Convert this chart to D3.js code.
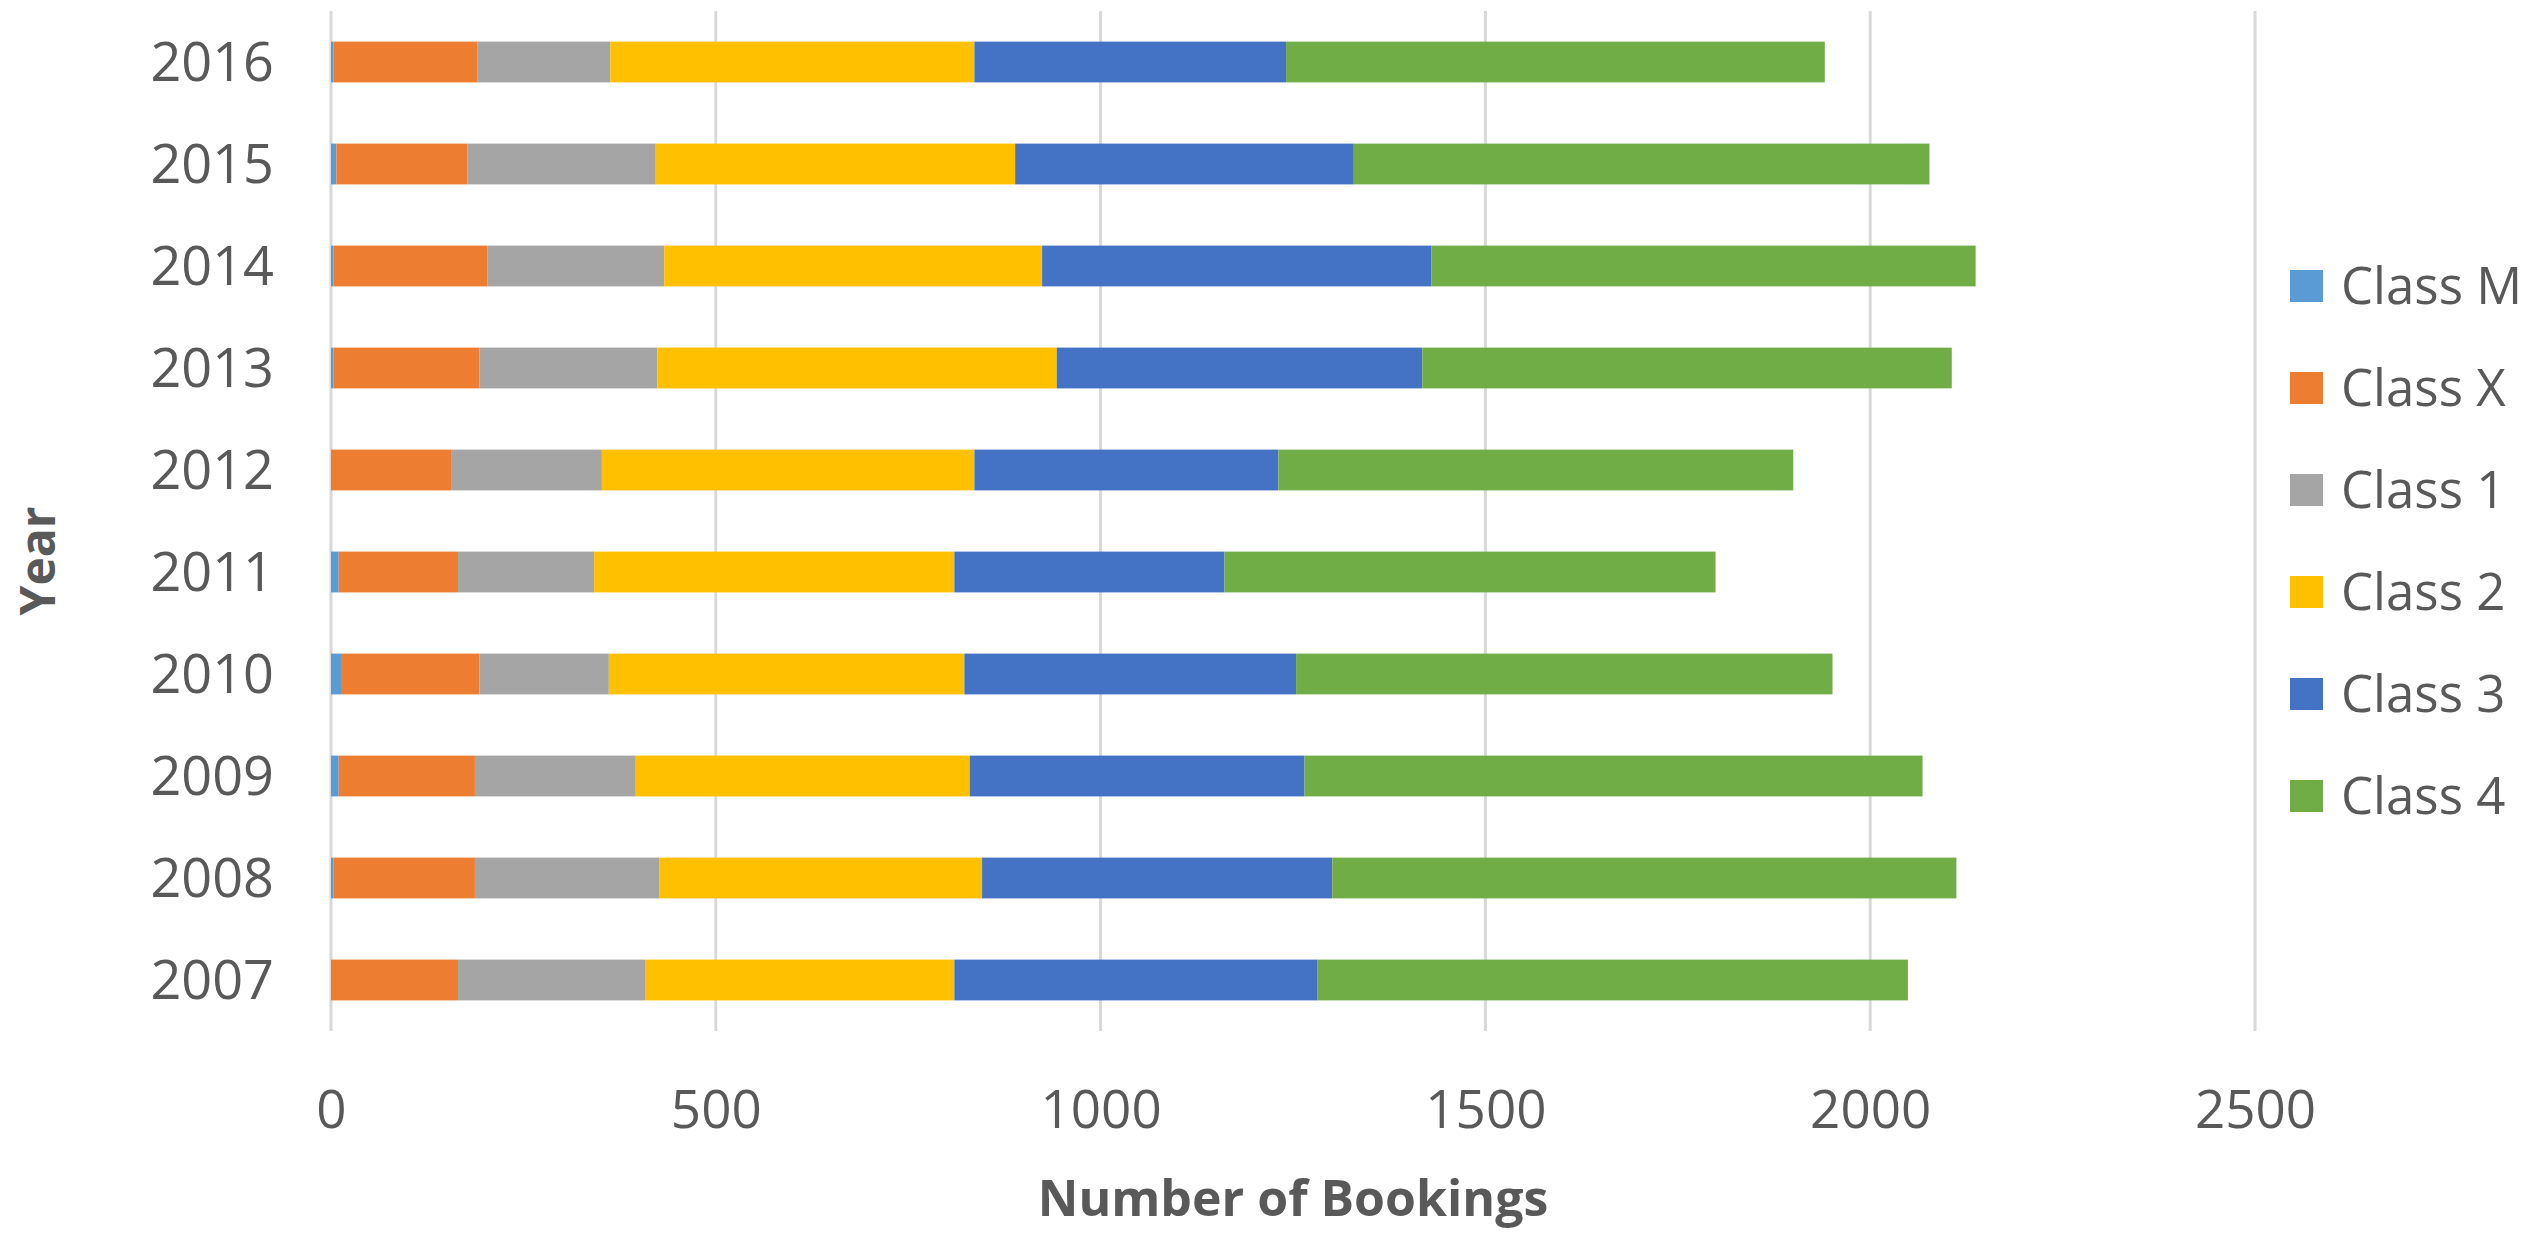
<!DOCTYPE html>
<html>
<head>
<meta charset="utf-8">
<script src="https://cdn.jsdelivr.net/npm/d3@7"></script>
<style>
  html, body { margin: 0; padding: 0; background: #ffffff; }
  svg { display: block; }
  text { font-family: "Open Sans", "Noto Sans", sans-serif; fill: #595959; }
</style>
</head>
<body>
<svg id="chart" width="2535" height="1239"></svg>
<script>
// ---- data (years 2007..2016) ----
const years = ["2007", "2008", "2009", "2010", "2011", "2012", "2013", "2014", "2015", "2016"];
const seriesNames = ["Class M", "Class X", "Class 1", "Class 2", "Class 3", "Class 4"];
const classM = [0, 3, 10, 13, 10, 0, 3, 3, 7, 3];
const classX = [165, 184, 177, 180, 155, 156, 190, 200, 170, 187];
const class1 = [243, 240, 209, 168, 177, 196, 231, 230, 244, 173];
const class2 = [402, 419, 434, 462, 468, 484, 519, 491, 468, 473];
const class3 = [472, 455, 435, 431, 351, 395, 475, 506, 440, 405];
const class4 = [767, 811, 803, 697, 638, 669, 688, 707, 748, 700];
const xTicks = [0, 500, 1000, 1500, 2000, 2500];
const colors = ["#5B9BD5", "#ED7D31", "#A5A5A5", "#FFC000", "#4472C4", "#70AD47"];

const seriesValues = [classM, classX, class1, class2, class3, class4];
const rows = years.map((y, i) => {
  const r = { year: y };
  seriesNames.forEach((s, k) => { r[s] = seriesValues[k][i]; });
  return r;
});

const svg = d3.select("#chart");

const plot = { left: 331, right: 2255, top: 11, bottom: 1031 };

const x = d3.scaleLinear().domain([0, 2500]).range([plot.left, plot.right]);
const y = d3.scaleBand()
  .domain(years.slice().reverse())
  .range([plot.top, plot.bottom])
  .paddingInner(0.6)
  .paddingOuter(0.3);

// gridlines
svg.append("g")
  .selectAll("line")
  .data(xTicks)
  .join("line")
  .attr("x1", d => x(d)).attr("x2", d => x(d))
  .attr("y1", plot.top).attr("y2", plot.bottom)
  .attr("stroke", "#d9d9d9")
  .attr("stroke-width", 3);

// stacked bars
const stack = d3.stack().keys(seriesNames);
const stacked = stack(rows);

svg.append("g")
  .selectAll("g")
  .data(stacked)
  .join("g")
  .attr("fill", (d, i) => colors[i])
  .selectAll("rect")
  .data(d => d)
  .join("rect")
  .attr("x", d => x(d[0]))
  .attr("width", d => Math.max(0, x(d[1]) - x(d[0])))
  .attr("y", d => y(d.data.year))
  .attr("height", y.bandwidth());

// x axis labels
const xAxis = svg.append("g")
  .attr("transform", `translate(0, 1109)`)
  .call(d3.axisBottom(x).tickValues(xTicks).tickSize(0).tickFormat(d3.format("d")));
xAxis.select(".domain").remove();
xAxis.selectAll("text")
  .attr("y", 0)
  .attr("dy", "0.36em")
  .style("font-size", "53px")
  .style("font-family", "'Open Sans', 'Noto Sans', sans-serif")
  .attr("fill", "#595959");

// y axis labels
const yAxis = svg.append("g")
  .attr("transform", `translate(${plot.left}, 0)`)
  .call(d3.axisLeft(y).tickSize(0).tickPadding(57));
yAxis.select(".domain").remove();
yAxis.selectAll("text")
  .attr("dy", "0.36em")
  .style("font-size", "54px")
  .style("font-family", "'Open Sans', 'Noto Sans', sans-serif")
  .attr("fill", "#595959");

// axis titles
svg.append("text")
  .attr("x", (plot.left + plot.right) / 2)
  .attr("y", 1198)
  .attr("text-anchor", "middle")
  .attr("dy", "0.36em")
  .style("font-size", "50px")
  .style("font-weight", "bold")
  .text("Number of Bookings");

svg.append("text")
  .attr("transform", "translate(38, 561) rotate(-90)")
  .attr("text-anchor", "middle")
  .attr("dy", "0.36em")
  .style("font-size", "48px")
  .style("font-weight", "bold")
  .text("Year");

// legend
const legend = svg.append("g");
const legendItems = legend.selectAll("g")
  .data(seriesNames)
  .join("g")
  .attr("transform", (d, i) => `translate(2290, ${286 + i * 102})`);
legendItems.append("rect")
  .attr("x", 0).attr("y", -16)
  .attr("width", 33).attr("height", 32)
  .attr("fill", (d, i) => colors[i]);
legendItems.append("text")
  .attr("x", 51)
  .attr("y", 0)
  .attr("dy", "0.36em")
  .style("font-size", "51px")
  .text(d => d);
</script>
</body>
</html>
